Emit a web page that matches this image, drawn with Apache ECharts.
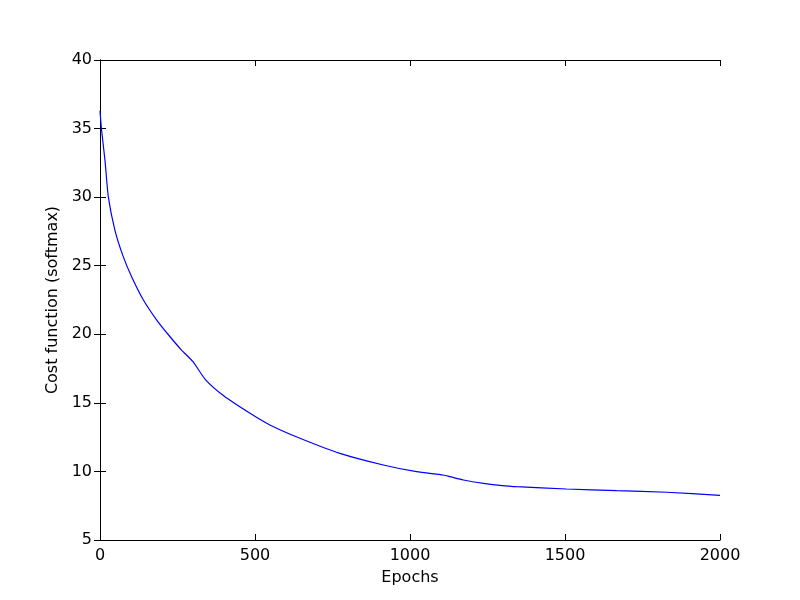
<!DOCTYPE html>
<html><head><meta charset="utf-8">
<script src="https://cdn.jsdelivr.net/npm/echarts@6/dist/echarts.min.js"></script>
<style>html,body{margin:0;padding:0;background:#fff}#c{width:800px;height:600px}</style>
</head><body><div id="c"></div>
<script>
var epochs = [0, 5, 16, 27, 48, 75, 102, 140, 183, 226, 263, 300, 340, 400, 484, 548, 645, 774, 914, 1021, 1107, 1129, 1172, 1237, 1290, 1344, 1505, 1667, 1828, 2000];
var cost =   [36.3, 34.9, 32.7, 30.0, 27.6, 25.66, 24.2, 22.5, 21.04, 19.82, 18.85, 18.0, 16.7, 15.5, 14.24, 13.39, 12.42, 11.32, 10.47, 9.98, 9.74, 9.62, 9.375, 9.13, 8.99, 8.89, 8.72, 8.6, 8.48, 8.26];
var xTicks = [0, 500, 1000, 1500, 2000];
var yTicks = [5, 10, 15, 20, 25, 30, 35, 40];

var font = 'DejaVu Sans';
var chart = echarts.init(document.getElementById('c'), null, {renderer: 'canvas'});
var line = {show: true, lineStyle: {color: '#000', width: 1}};
var tick = {show: true, inside: true, length: 6, lineStyle: {color: '#000', width: 1}};
var fmt = function(v){ return String(v); };
chart.setOption({
  animation: false,
  backgroundColor: '#fff',
  grid: {left: 100, right: 80, top: 60, bottom: 60, show: false},
  xAxis: [
    {type: 'value', min: xTicks[0], max: xTicks[xTicks.length-1], interval: 500, position: 'bottom',
     name: 'Epochs', nameLocation: 'middle', nameGap: 30,
     nameTextStyle: {fontFamily: font, fontSize: 16, color: '#000'},
     axisLine: line, axisTick: tick, splitLine: {show: false},
     axisLabel: {fontFamily: font, fontSize: 16, color: '#000', margin: 8, formatter: fmt}},
    {type: 'value', min: xTicks[0], max: xTicks[xTicks.length-1], interval: 500, position: 'top',
     axisLine: line, axisTick: tick, splitLine: {show: false}, axisLabel: {show: false}}
  ],
  yAxis: [
    {type: 'value', min: yTicks[0], max: yTicks[yTicks.length-1], interval: 5, position: 'left',
     name: 'Cost function (softmax)', nameLocation: 'middle', nameGap: 30, nameRotate: 90,
     nameTextStyle: {fontFamily: font, fontSize: 16, color: '#000'},
     axisLine: line, axisTick: tick, splitLine: {show: false},
     axisLabel: {fontFamily: font, fontSize: 16, color: '#000', margin: 8, formatter: fmt}},
    {type: 'value', min: yTicks[0], max: yTicks[yTicks.length-1], interval: 5, position: 'right',
     axisLine: line, axisTick: tick, splitLine: {show: false}, axisLabel: {show: false}}
  ],
  series: [{
    type: 'line', xAxisIndex: 0, yAxisIndex: 0, smooth: 0.2, showSymbol: false,
    lineStyle: {color: '#0000ff', width: 1.2},
    data: epochs.map(function(e, i){ return [e, cost[i]]; })
  }]
});
</script></body></html>
